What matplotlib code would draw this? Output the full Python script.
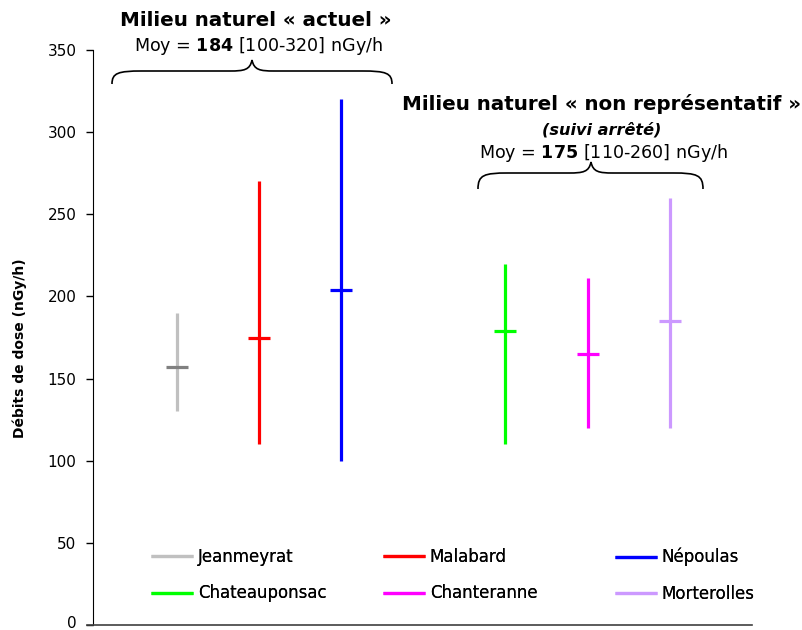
import matplotlib
matplotlib.use("Agg")
import matplotlib.pyplot as plt
from matplotlib.path import Path
from matplotlib.patches import PathPatch
from matplotlib.transforms import Affine2D, ScaledTranslation

plt.rcParams['font.family'] = ['DejaVu Sans']
plt.rcParams['mathtext.fontset'] = 'dejavusans'

# ---- data ----
sites = ["Jeanmeyrat", "Malabard", "Népoulas", "Chateauponsac", "Chanteranne", "Morterolles"]
positions = [0, 1, 2, 4, 5, 6]
mins = [130, 110, 100, 110, 120, 120]
maxs = [190, 270, 320, 220, 211, 260]
means = [157, 175, 204, 179, 165, 185]
line_colors = ["#C0C0C0", "#FF0000", "#0000FF", "#00FF00", "#FF00FF", "#CC99FF"]
mean_colors = ["#808080", "#FF0000", "#0000FF", "#00FF00", "#FF00FF", "#CC99FF"]
yticks = [0, 50, 100, 150, 200, 250, 300, 350]

W, H = 803, 630
fig = plt.figure(figsize=(W / 100, H / 100), dpi=100)
ax = fig.add_axes([93 / W, 5 / H, (752 - 93) / W, (625 - 50) / H])

handles = []
for x, lo, hi, m, lc, mc, name in zip(positions, mins, maxs, means, line_colors, mean_colors, sites):
    h = ax.vlines(x, lo, hi, colors=lc, linewidth=2.3, label=name)
    ax.plot([x], [m], marker='_', markersize=16, mew=2.3, color=mc, linestyle='none')
    handles.append(h)

ax.set_xlim(-1.02, 7.0)
ax.set_ylim(0, 350)
ax.set_yticks(yticks)
ax.set_xticks([])
ax.tick_params(axis='y', direction='out', length=5, width=1, labelsize=11, pad=7)
for s in ['top', 'right']:
    ax.spines[s].set_visible(False)
ax.spines['left'].set_color('black')
ax.spines['bottom'].set_color('#404040')
ax.spines['bottom'].set_linewidth(1.2)
ax.spines['bottom'].set_bounds(-1.093, 7.0)
ax.set_ylabel("Débits de dose (nGy/h)", fontsize=10, fontweight='bold')
ax.yaxis.set_label_coords(-0.100, 0.482)

# nudge the "0" label up slightly so it stays inside the figure
fig.canvas.draw()
lab0 = ax.get_yticklabels()[0]
lab0.set_transform(lab0.get_transform() + ScaledTranslation(0, 2.5 / 72, fig.dpi_scale_trans))

# legends: three columns
cols = [(0, 3), (1, 4), (2, 5)]
lefts = [151, 383, 615]
for (i, j), lx in zip(cols, lefts):
    leg = fig.legend([handles[i], handles[j]], [sites[i], sites[j]],
                     loc='upper left', bbox_to_anchor=(lx / W, 1 - 548 / H),
                     frameon=False, fontsize=12, handlelength=2.5, handletextpad=0.3,
                     labelspacing=1.1, borderpad=0, borderaxespad=0)
    fig.add_artist(leg)

# pixel -> figure transform
px = Affine2D().scale(1 / W, -1 / H).translate(0, 1) + fig.transFigure


def brace(x0, x1, xm, yb, yh, yt):
    verts = [(x0, yb), (x0, yh + 2), (x0 + 6, yh), (x0 + 30, yh),
             (xm - 22, yh),
             (xm - 8, yh), (xm - 2, yh - 1), (xm, yt),
             (xm + 2, yh - 1), (xm + 8, yh), (xm + 22, yh),
             (x1 - 30, yh),
             (x1 - 6, yh), (x1, yh + 2), (x1, yb)]
    codes = [Path.MOVETO, Path.CURVE4, Path.CURVE4, Path.CURVE4,
             Path.LINETO,
             Path.CURVE4, Path.CURVE4, Path.CURVE4,
             Path.CURVE4, Path.CURVE4, Path.CURVE4,
             Path.LINETO,
             Path.CURVE4, Path.CURVE4, Path.CURVE4]
    patch = PathPatch(Path(verts, codes), facecolor='none', edgecolor='black',
                      linewidth=1.2, transform=px)
    fig.add_artist(patch)


brace(112, 392, 252, 84, 71, 60)
brace(478, 703, 591, 189, 173, 162)

def ftext(x, y, s, **kw):
    fig.text(x / W, 1 - y / H, s, ha='center', va='center', **kw)

ftext(256, 20, "Milieu naturel « actuel »", fontsize=14.3, fontweight='bold')
ftext(258, 46, r"Moy = $\mathbf{184}$ [100-320] nGy/h", fontsize=12.6)
ftext(602, 104, "Milieu naturel « non représentatif »", fontsize=14.3, fontweight='bold')
ftext(602, 130, "(suivi arrêté)", fontsize=11.6, fontweight='bold', fontstyle='italic')
ftext(603, 153, r"Moy = $\mathbf{175}$ [110-260] nGy/h", fontsize=12.6)

fig.savefig("out.png", dpi=100)
